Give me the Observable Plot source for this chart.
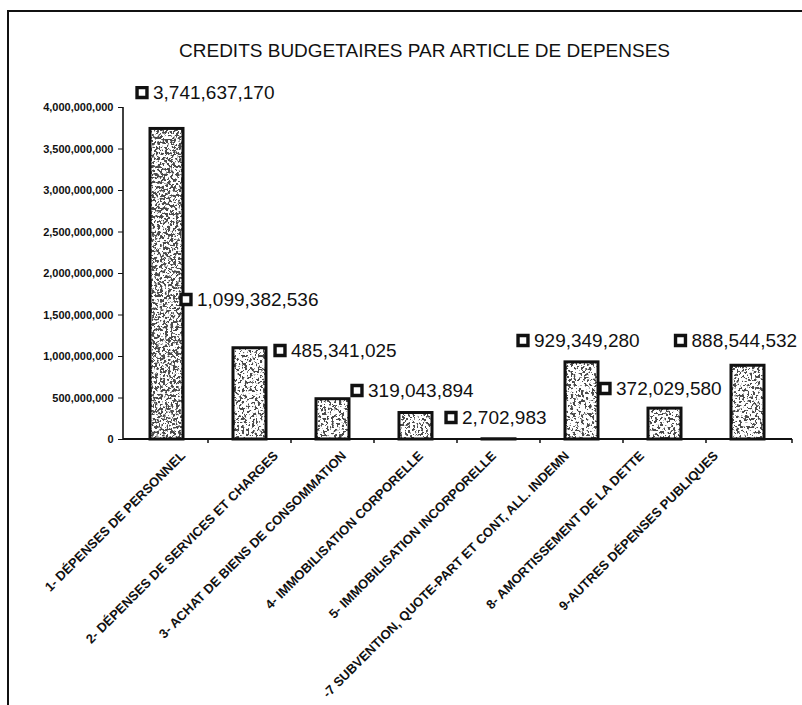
<!DOCTYPE html>
<html><head><meta charset="utf-8">
<script src="https://cdn.jsdelivr.net/npm/d3@7"></script>
<script src="https://cdn.jsdelivr.net/npm/@observablehq/plot@0.6"></script>
<style>
html,body{margin:0;padding:0;background:#fff;}
#wrap{position:relative;width:802px;height:705px;overflow:hidden;}
#frame{position:absolute;left:7px;top:10px;width:800px;height:700px;border-left:2px solid #111;border-top:2px solid #111;pointer-events:none;}
</style></head><body><div id="wrap"><div id="chart"></div><div id="frame"></div></div>
<script>
// ---- data ----
const title = "CREDITS BUDGETAIRES PAR ARTICLE DE DEPENSES";
const categories = [
  "1- DÉPENSES DE PERSONNEL",
  "2- DÉPENSES DE SERVICES ET CHARGES",
  "3- ACHAT DE BIENS DE CONSOMMATION",
  "4- IMMOBILISATION CORPORELLE",
  "5- IMMOBILISATION INCORPORELLE",
  "-7 SUBVENTION, QUOTE-PART ET CONT, ALL. INDEMN",
  "8- AMORTISSEMENT DE LA DETTE",
  "9-AUTRES DÉPENSES PUBLIQUES"
];
const values = [3741637170, 1099382536, 485341025, 319043894, 2702983, 929349280, 372029580, 888544532];
const yTicks = [0, 500000000, 1000000000, 1500000000, 2000000000, 2500000000, 3000000000, 3500000000, 4000000000];

// ---- layout (label placement, as in the reference) ----
const labelY = [4.18e9, 1.687e9, 1.072e9, 0.59e9, 0.265e9, 1.193e9, 0.614e9, 1.193e9];
const markerDx = [-25, -64, -53, -59, -48, -59, -60, -67.5];
const tickLabelDx = [19, 29, 14, 8, -2, -12, -20, -29];

const table = categories.map((c, i) => ({category: c, value: values[i], i}));
const fmt = d3.format(",");
const FONT = "'Liberation Sans', Arial, Helvetica, sans-serif";

// speckled texture (style only): thresholded turbulence inside a pattern
function defsMark(index, scales, values, dims) {
  const W = dims.width, H = dims.height;
  const g = d3.create("svg:g");
  const defs = g.append("defs");
  function speck(id, slope, offset, seed, freq) {
    const f = defs.append("filter").attr("id", id + "F")
      .attr("filterUnits", "userSpaceOnUse").attr("x", 0).attr("y", 0).attr("width", W).attr("height", H);
    f.append("feTurbulence").attr("type", "fractalNoise").attr("baseFrequency", freq)
      .attr("numOctaves", 3).attr("seed", seed).attr("result", "n");
    f.append("feColorMatrix").attr("in", "n").attr("type", "matrix")
      .attr("values", `0 0 0 0 0.07  0 0 0 0 0.07  0 0 0 0 0.07  ${slope} 0 0 0 ${offset}`);
    const p = defs.append("pattern").attr("id", id).attr("patternUnits", "userSpaceOnUse")
      .attr("width", W).attr("height", H);
    p.append("rect").attr("width", W).attr("height", H).attr("fill", "#fff");
    p.append("rect").attr("width", W).attr("height", H).attr("fill", "#111").attr("filter", `url(#${id}F)`);
  }
  speck("speckLight", 16, -8.6, 4, 0.38);
  speck("speckDark", 14, -6.9, 9, 0.38);
  return g.node();
}
function axesMark(index, scales, values, dims) {
  const g = d3.create("svg:g").attr("stroke", "#111").attr("fill", "none");
  const x0 = dims.marginLeft, x1 = dims.width - dims.marginRight;
  const yb = dims.height - dims.marginBottom, yt = dims.marginTop;
  g.append("line").attr("x1", x0).attr("x2", x0).attr("y1", yt).attr("y2", yb).attr("stroke-width", 1.6);
  g.append("line").attr("x1", x0).attr("x2", x1).attr("y1", yb).attr("y2", yb).attr("stroke-width", 2);
  const xs = scales.x;
  const starts = categories.map(c => xs(c));
  const bw = typeof xs.bandwidth === "function" ? xs.bandwidth() : (xs.bandwidth || 0);
  const bounds = [];
  for (let i = 1; i < starts.length; i++) bounds.push(starts[i - 1] + bw / 2 + (starts[i] - starts[i - 1]) / 2);
  bounds.push(x1);
  bounds.forEach(b => g.append("line").attr("x1", b).attr("x2", b).attr("y1", yb).attr("y2", yb + 4).attr("stroke-width", 1.5));
  return g.node();
}

const marks = [
  defsMark,
  Plot.barY(table, {x: "category", y: "value", fill: d => d.i === 0 ? "url(#speckDark)" : "url(#speckLight)", stroke: "#111", strokeWidth: 3}),
  axesMark,
  Plot.axisY(yTicks, {tickFormat: fmt, tickSize: 5, tickPadding: 5, fontSize: 11, fontWeight: "bold", label: null, stroke: "#111"}),
  Plot.text([title], {frameAnchor: "top-left", dx: 301, dy: -64, text: d => d, fontSize: 19, textAnchor: "middle", fill: "#111"})
];
table.forEach((d, i) => {
  marks.push(Plot.dot([d], {x: "category", y: () => labelY[i], dx: markerDx[i], symbol: "square", r: 5.6, stroke: "#111", strokeWidth: 3.4, fill: "white"}));
  marks.push(Plot.text([d], {x: "category", y: () => labelY[i], dx: markerDx[i] + 11, text: r => fmt(r.value), textAnchor: "start", fontSize: 19, fill: "#111"}));
  marks.push(Plot.text([d], {x: "category", frameAnchor: "bottom", dx: tickLabelDx[i], dy: 17, text: "category", rotate: -45, textAnchor: "end", lineAnchor: "bottom", fontSize: 13, fontWeight: "bold", fill: "#111", style: {letterSpacing: "-0.3px"}}));
});

const plot = Plot.plot({
  width: 802, height: 705,
  marginLeft: 123, marginRight: 10, marginTop: 107, marginBottom: 266,
  style: {fontFamily: FONT, background: "white", color: "#111", overflow: "visible"},
  x: {domain: categories, paddingInner: 0.6, paddingOuter: 0.3, axis: null},
  y: {domain: [0, 4e9], axis: null},
  marks
});
document.getElementById("chart").appendChild(plot);
</script></body></html>
